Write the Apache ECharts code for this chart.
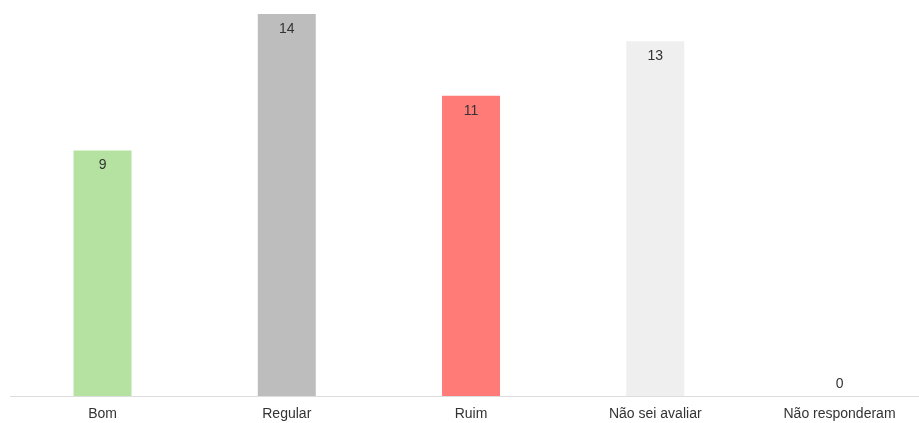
<!DOCTYPE html>
<html><head><meta charset="utf-8">
<script src="https://cdn.jsdelivr.net/npm/echarts@6/dist/echarts.min.js"></script>
<style>html,body{margin:0;padding:0;background:#fff;overflow:hidden;width:919px;height:423px}#c{width:932px;height:423px}</style>
</head><body><div id="c"></div>
<script>
const categories = ['Bom', 'Regular', 'Ruim', 'Não sei avaliar', 'Não responderam'];
const values = [9, 14, 11, 13, 0];
const colors = ['#b5e2a0', '#bdbdbd', '#ff7b78', '#efefef', '#efefef'];

const chart = echarts.init(document.getElementById('c'));
chart.setOption({
  animation: false,
  grid: { left: 10.4, right: 0.35, top: 14, bottom: 27, containLabel: false },
  xAxis: {
    type: 'category', data: categories,
    axisLine: { lineStyle: { color: '#dddddd', width: 1 } },
    axisTick: { show: false },
    axisLabel: { color: '#333', fontSize: 14, fontFamily: 'Liberation Sans, Arial, sans-serif', margin: 11, interval: 0 }
  },
  yAxis: { type: 'value', min: 0, max: 14, show: false, splitLine: { show: false } },
  series: [{
    type: 'bar', barWidth: 58,
    data: values.map((v, i) => ({
      value: v,
      itemStyle: { color: colors[i] },
      label: v === 0 ? { position: 'top', distance: 5 } : undefined
    })),
    label: { show: true, position: 'insideTop', distance: 8, color: '#333', fontSize: 14, fontFamily: 'Liberation Sans, Arial, sans-serif' }
  }]
});
</script></body></html>
